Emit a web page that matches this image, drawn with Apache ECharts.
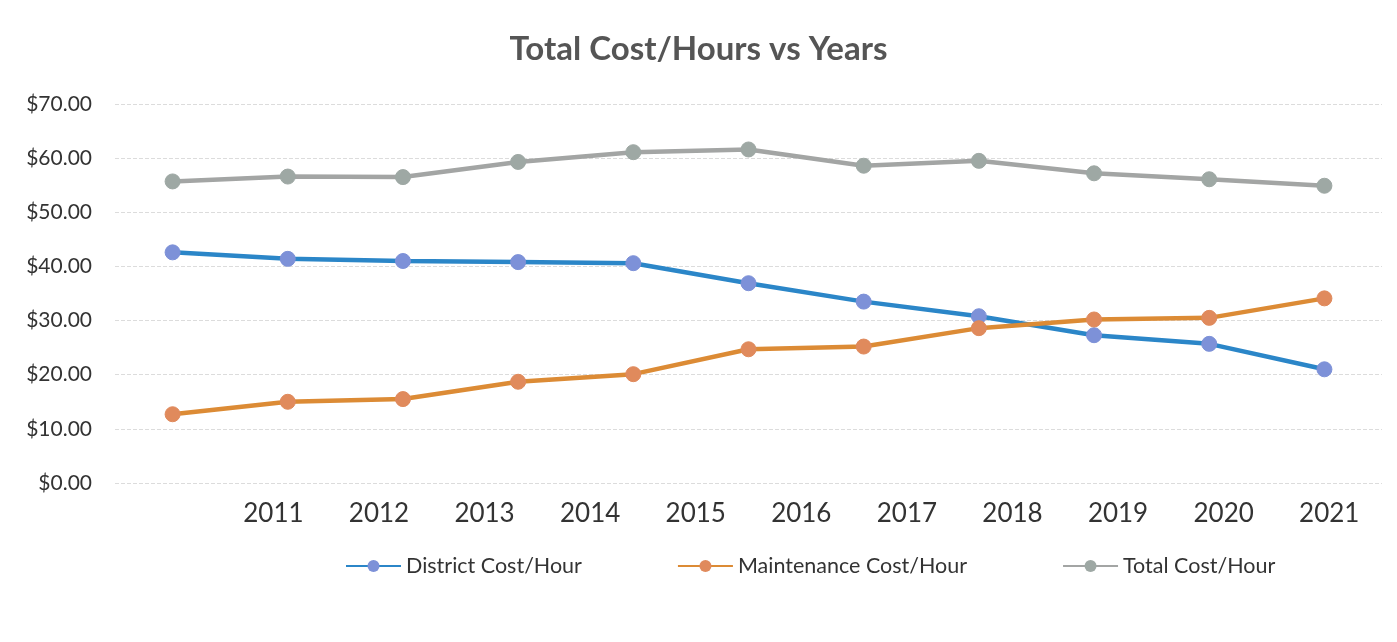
<html>
  <head>
    <meta charset="utf-8" />
    <title>Total Cost/Hours vs Years</title>
    <style>
      html, body { margin: 0; padding: 0; background: #fff; }
      #chart { width: 1397px; height: 642px; }
    </style>
  </head>
  <body>
    <div id="chart"></div>
    <script src="https://cdn.jsdelivr.net/npm/echarts@6/dist/echarts.min.js"></script>
    <script>
      // data
      var years = ['2011', '2012', '2013', '2014', '2015', '2016', '2017', '2018', '2019', '2020', '2021'];
      // the axis labels sit one slot to the right in the original, so a blank first slot
      var yearLabels = [''].concat(years);
      var districtCost = [42.6, 41.4, 41.0, 40.8, 40.6, 36.9, 33.5, 30.8, 27.3, 25.7, 21.0];
      var maintenanceCost = [12.7, 15.0, 15.5, 18.7, 20.1, 24.7, 25.2, 28.6, 30.2, 30.5, 34.1];
      var totalCost = [55.7, 56.6, 56.5, 59.3, 61.1, 61.6, 58.6, 59.5, 57.2, 56.1, 54.9];

      var font = 'Lato, "Open Sans", sans-serif';

      function lineSeries(name, data, lineColor, dotColor) {
        return {
          name: name,
          type: 'line',
          data: data,
          xAxisIndex: 0,
          symbol: 'circle',
          symbolSize: 15,
          lineStyle: { color: lineColor, width: 4.5 },
          itemStyle: { color: dotColor, borderColor: dotColor },
          color: lineColor,
          z: 3
        };
      }

      var chart = echarts.init(document.getElementById('chart'));
      chart.setOption({
        backgroundColor: '#fff',
        animation: false,
        title: {
          text: 'Total Cost/Hours vs Years',
          left: 'center',
          top: 28,
          textStyle: { fontFamily: font, fontSize: 33, fontWeight: 'bold', color: '#555' }
        },
        legend: {
          top: 550,
          left: 340,
          itemWidth: 55,
          itemHeight: 15,
          itemGap: 95,
          textStyle: { fontFamily: font, fontSize: 21.5, color: '#333' },
          data: ['District Cost/Hour', 'Maintenance Cost/Hour', 'Total Cost/Hour']
        },
        grid: { left: 115, right: 15, top: 104, height: 379, containLabel: false },
        xAxis: [
          {
            type: 'category',
            data: years,
            boundaryGap: true,
            axisLine: { show: false },
            axisTick: { show: false },
            axisLabel: { show: false }
          },
          {
            type: 'category',
            data: yearLabels,
            boundaryGap: true,
            position: 'bottom',
            axisLine: { show: false },
            axisTick: { show: false },
            axisLabel: { fontFamily: font, fontSize: 26, color: '#333', margin: 18 }
          }
        ],
        yAxis: {
          type: 'value',
          min: 0,
          max: 70,
          interval: 10,
          axisLine: { show: false },
          axisTick: { show: false },
          axisLabel: {
            fontFamily: font, fontSize: 21, color: '#333', margin: 23,
            formatter: function (v) { return '$' + v.toFixed(2); }
          },
          splitLine: { lineStyle: { color: '#dcdcdc', type: 'dashed', width: 1 } }
        },
        series: [
          lineSeries('District Cost/Hour', districtCost, '#2b86c8', '#7d91d8'),
          lineSeries('Maintenance Cost/Hour', maintenanceCost, '#dc8b35', '#e08a5c'),
          lineSeries('Total Cost/Hour', totalCost, '#a3a5a4', '#9ea8a4')
        ]
      });
    </script>
  </body>
</html>
